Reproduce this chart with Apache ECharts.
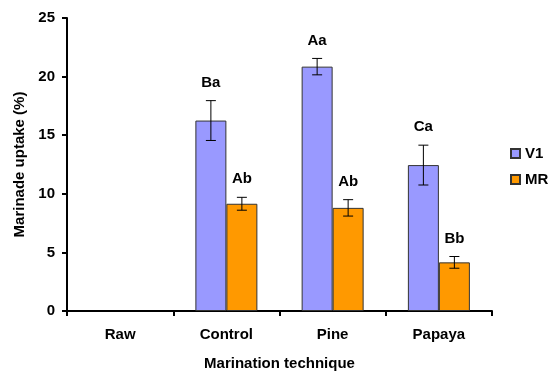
<!DOCTYPE html>
<html>
<head>
<meta charset="utf-8">
<script src="https://cdn.jsdelivr.net/npm/echarts@6/dist/echarts.min.js"></script>
<style>
html,body{margin:0;padding:0;background:#fff;}
#chart{width:555px;height:371px;}
</style>
</head>
<body>
<div id="chart"></div>
<script>
var categories = ['Raw', 'Control', 'Pine', 'Papaya'];
var v1Values = [null, 16.25, 20.85, 12.45];
var v1Errors = [null, 1.7, 0.7, 1.7];
var v1Letters = ['', 'Ba', 'Aa', 'Ca'];
var mrValues = [null, 9.15, 8.8, 4.15];
var mrErrors = [null, 0.55, 0.7, 0.5];
var mrLetters = ['', 'Ab', 'Ab', 'Bb'];
var yTicks = [0, 5, 10, 15, 20, 25];

var FONT = 'Liberation Sans, Arial, sans-serif';
var BAR_W = 31;

function errorSeries(name, values, errors, letters, offset) {
  var data = values.map(function (v, i) {
    return [i, v, errors[i], letters[i]];
  }).filter(function (d) { return d[1] != null; });
  return {
    type: 'custom',
    name: name,
    data: data,
    z: 10,
    renderItem: function (params, api) {
      var idx = api.value(0);
      var val = api.value(1);
      var err = api.value(2);
      var letter = data[params.dataIndex][3];
      var hi = api.coord([idx, val + err]);
      var lo = api.coord([idx, val - err]);
      var x = hi[0] + offset;
      var cap = 5;
      var st = { stroke: '#000', lineWidth: 1 };
      return {
        type: 'group',
        children: [
          { type: 'line', shape: { x1: x, y1: hi[1], x2: x, y2: lo[1] }, style: st },
          { type: 'line', shape: { x1: x - cap, y1: hi[1], x2: x + cap, y2: hi[1] }, style: st },
          { type: 'line', shape: { x1: x - cap, y1: lo[1], x2: x + cap, y2: lo[1] }, style: st },
          { type: 'text', style: { x: x, y: hi[1] - 18, text: letter, textAlign: 'center', textVerticalAlign: 'middle', fill: '#000', font: 'bold 15px ' + FONT } }
        ]
      };
    }
  };
}

var chart = echarts.init(document.getElementById('chart'));
chart.setOption({
  animation: false,
  backgroundColor: '#fff',
  textStyle: { fontFamily: FONT },
  grid: { left: 67, right: 63, top: 18, bottom: 60, containLabel: false, outerBoundsMode: 'none' },
  legend: {
    data: ['V1', 'MR'],
    orient: 'vertical',
    left: 505,
    top: 141,
    itemWidth: 9,
    itemHeight: 9,
    itemGap: 11,
    icon: 'rect',
    textStyle: { fontFamily: FONT, fontWeight: 'bold', fontSize: 15, color: '#000' }
  },
  xAxis: {
    type: 'category',
    data: categories,
    name: 'Marination technique',
    nameLocation: 'middle',
    nameGap: 45,
    nameTextStyle: { fontFamily: FONT, fontWeight: 'bold', fontSize: 15, color: '#000' },
    axisLine: { lineStyle: { color: '#000', width: 2 } },
    axisTick: { show: true, alignWithLabel: false, length: 5, lineStyle: { color: '#000', width: 2 } },
    axisLabel: { fontFamily: FONT, fontWeight: 'bold', fontSize: 15, color: '#000', margin: 16 },
    splitLine: { show: false }
  },
  yAxis: {
    type: 'value',
    min: yTicks[0],
    max: yTicks[yTicks.length - 1],
    interval: yTicks[1] - yTicks[0],
    name: 'Marinade uptake (%)',
    nameLocation: 'middle',
    nameRotate: 90,
    nameGap: 38,
    nameTextStyle: { fontFamily: FONT, fontWeight: 'bold', fontSize: 15, color: '#000' },
    axisLine: { show: true, lineStyle: { color: '#000', width: 2 } },
    axisTick: { show: true, length: 5, lineStyle: { color: '#000', width: 2 } },
    axisLabel: { fontFamily: FONT, fontWeight: 'bold', fontSize: 15, color: '#000', margin: 12 },
    splitLine: { show: false }
  },
  series: [
    {
      name: 'V1', type: 'bar', data: v1Values, barWidth: BAR_W, barGap: '0%',
      itemStyle: { color: '#9999FF', borderColor: '#333', borderWidth: 1 }
    },
    {
      name: 'MR', type: 'bar', data: mrValues, barWidth: BAR_W, barGap: '0%',
      itemStyle: { color: '#FF9900', borderColor: '#333', borderWidth: 1 }
    },
    errorSeries('V1err', v1Values, v1Errors, v1Letters, -BAR_W / 2),
    errorSeries('MRerr', mrValues, mrErrors, mrLetters, BAR_W / 2)
  ]
});
</script>
</body>
</html>
